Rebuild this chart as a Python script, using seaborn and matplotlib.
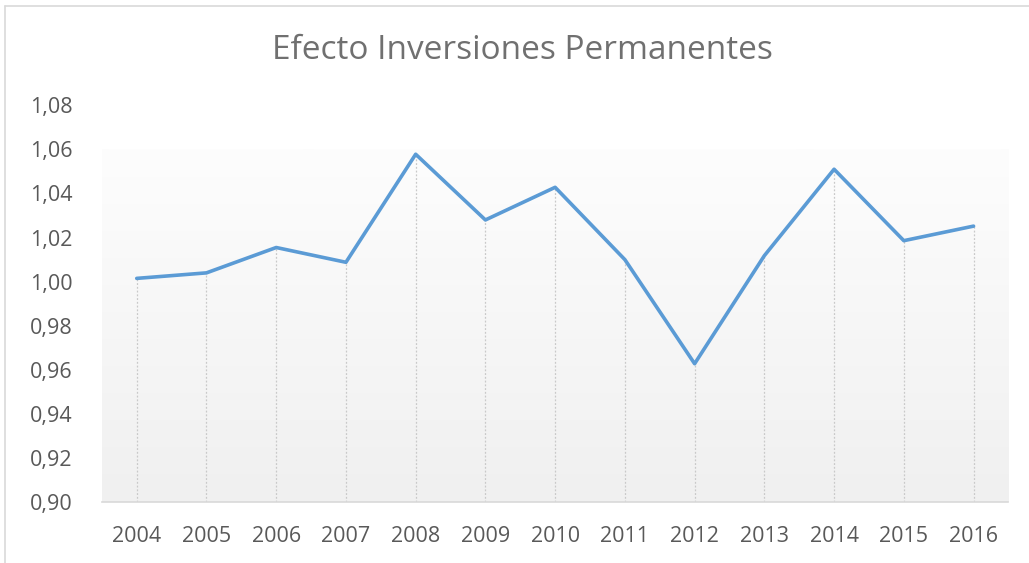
import numpy as np
import matplotlib
matplotlib.use('Agg')
import matplotlib.pyplot as plt
import seaborn as sns
import pandas as pd

years = [2004, 2005, 2006, 2007, 2008, 2009, 2010, 2011, 2012, 2013, 2014, 2015, 2016]
values = [1.0015, 1.004, 1.0155, 1.0088, 1.0578, 1.028, 1.0428, 1.0100, 0.9628, 1.0118, 1.0510, 1.0186, 1.0252]
y_ticks = [0.90, 0.92, 0.94, 0.96, 0.98, 1.00, 1.02, 1.04, 1.06, 1.08]

sns.set_style('white')
plt.rcParams['font.family'] = ['Open Sans', 'DejaVu Sans']

df = pd.DataFrame({'year': years, 'value': values})

fig = plt.figure(figsize=(10.29, 5.63), dpi=100)
ax = fig.add_axes([0.099, 0.108, 0.881, 0.705])

# gradient fill of plot area
grad = np.linspace(0, 1, 256).reshape(-1, 1)
ax.imshow(grad, extent=[2003.5, 2016.5, 0.90, 1.06], aspect='auto',
          cmap=matplotlib.colors.LinearSegmentedColormap.from_list('g', ['#f0f0f0', '#fdfdfd']),
          origin='lower', zorder=0)

# drop lines
ax.vlines(df['year'], 0.90, df['value'], colors='#c9c9c9', linestyles=(0, (1.5, 1.5)),
          linewidth=0.9, zorder=1)

sns.lineplot(data=df, x='year', y='value', color='#5b9bd5', linewidth=2.6, ax=ax, zorder=3)

ax.set_xlim(2003.5, 2016.5)
ax.set_ylim(0.90, 1.08)
ax.set_xticks(years)
ax.set_xticklabels([str(y) for y in years])
ax.set_yticks(y_ticks)
ax.set_yticklabels([f'{v:.2f}'.replace('.', ',') for v in y_ticks])
ax.tick_params(axis='both', length=0, labelsize=15.5, colors='#595959')
ax.tick_params(axis='x', pad=17)
ax.tick_params(axis='y', pad=21)
ax.set_xlabel('')
ax.set_ylabel('')
for s in ['top', 'right', 'left']:
    ax.spines[s].set_visible(False)
ax.spines['bottom'].set_color('#d9d9d9')
ax.spines['bottom'].set_linewidth(1.2)
ax.patch.set_alpha(0)

fig.text(0.508, 0.911, 'Efecto Inversiones Permanentes', ha='center', va='center',
         fontsize=24, color='#707070')

# chart border (partially visible)
fig.add_artist(plt.Line2D([0.005, 0.005], [0, 0.99], color='#d9d9d9', linewidth=1.2))
fig.add_artist(plt.Line2D([0.005, 1], [0.99, 0.99], color='#d9d9d9', linewidth=1.2))

fig.savefig('out.png', dpi=100)
